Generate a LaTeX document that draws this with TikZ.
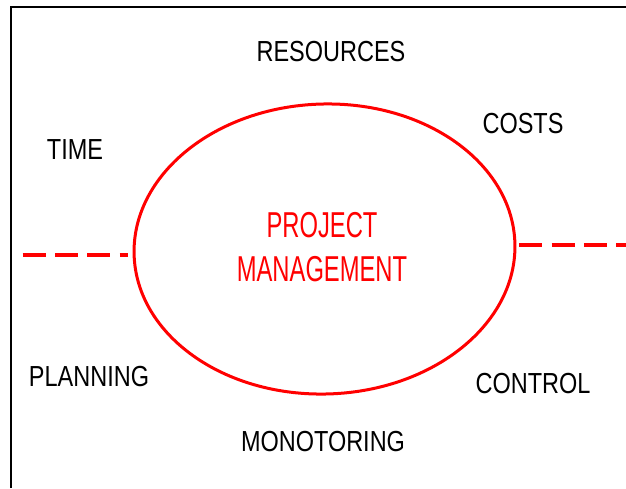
\documentclass[tikz,border=0pt]{standalone}
\usepackage{fontspec}
\setmainfont{Liberation Sans}
\usetikzlibrary{shapes.geometric}
\tikzset{
  topic/.style={font=\fontsize{29}{29}\selectfont, xscale=0.81, inner sep=0pt},
  pmtitle/.style={text=red, font=\fontsize{36}{44}\selectfont, xscale=0.66, align=center, inner sep=0pt},
  boundary/.style={draw=red, line width=4pt, dash pattern=on 23pt off 9.3pt}
}
\begin{document}
\begin{tikzpicture}[x=1pt,y=-1pt]
\useasboundingbox (0,0) rectangle (626,488);
\coordinate (frameB) at (11,488);
\coordinate (frameC) at (11,7);
\coordinate (frameR) at (626,7);
\draw[line width=2pt] (frameB) -- (frameC) -- (frameR);
\node[ellipse, draw=red, line width=3pt, minimum width=381pt, minimum height=290pt, inner sep=0pt, rotate=1.8] (pm) at (324.5,249) {};
\node[pmtitle] (pmtext) at (322,247.5) {PROJECT\\MANAGEMENT};
\node[topic] (resources) at (331,52) {RESOURCES};
\node[topic] (costs) at (523,124) {COSTS};
\node[topic] (time) at (75,150) {TIME};
\node[topic] (planning) at (89,377) {PLANNING};
\node[topic] (control) at (533,384) {CONTROL};
\node[topic] (monotoring) at (323,442) {MONOTORING};
\coordinate (leftfar) at (22.7,255);
\coordinate (leftnear) at (128,255);
\coordinate (rightnear) at (519.3,245);
\coordinate (rightfar) at (626,245);
\draw[boundary] (leftfar) -- (leftnear);
\draw[boundary] (rightnear) -- (rightfar);
\end{tikzpicture}
\end{document}
